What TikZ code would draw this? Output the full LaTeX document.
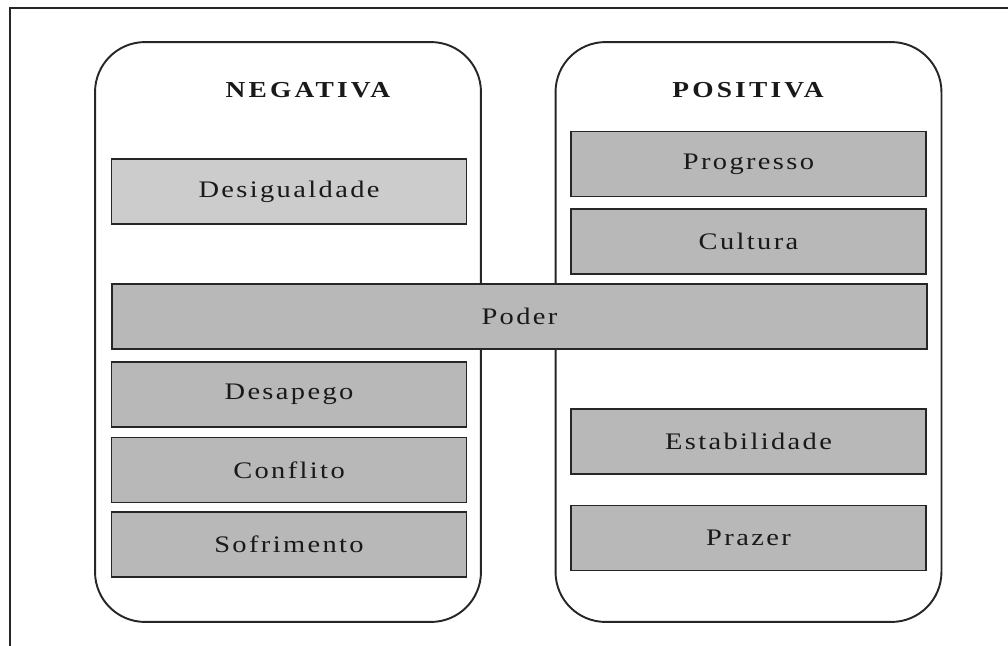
\documentclass[tikz,border=0pt]{standalone}
\usepackage{fontspec}
\setmainfont{Liberation Serif}
\newfontfamily\boxfont[FakeStretch=1.2,LetterSpace=10]{Liberation Serif}
\newfontfamily\headfont[FakeStretch=1.2,LetterSpace=14]{Liberation Serif}
\usetikzlibrary{positioning}

\begin{document}
\begin{tikzpicture}[
    x=0.02cm, y=-0.02cm,
    panel/.style={rectangle, draw=black!85, line width=1.1pt, rounded corners=1cm, minimum width=7.72cm, minimum height=11.6cm},
    item/.style={rectangle, draw=black!85, line width=0.9pt, fill=black!28, text=black!90, minimum width=7.1cm, minimum height=1.3cm, font=\boxfont\fontsize{13.5}{15}\selectfont},
    heading/.style={text=black!90, font=\headfont\bfseries\fontsize{13}{15}\selectfont}
]

    % Frame
    \clip (0,0) rectangle (1008,646);
    \draw[line width=1.1pt, black!85] (1008,8) -- (10,8) -- (10,646);

    % Panels
    \node (neg) [panel] at (288,332) {};
    \node (pos) [panel] at (748.5,332) {};
    \node (negtitle) [heading] at (308,90) {NEGATIVA};
    \node (postitle) [heading] at (748,90) {POSITIVA};

    % Negativa (Left)
    \node (desig) [item, fill=black!20] at (289,191.5) {Desigualdade};
    \node (desap) [item] at (289,394.5) {Desapego};
    \node (confl) [item, below=0.18cm of desap] {Conflito};
    \node (sofr) [item, below=0.16cm of confl] {Sofrimento};

    % Positiva (Right)
    \node (progr) [item] at (748.5,164) {Progresso};
    \node (cult) [item, below=0.22cm of progr] {Cultura};
    \node (estab) [item] at (748.5,441.5) {Estabilidade};
    \node (praz) [item, below=0.6cm of estab] {Prazer};

    % Poder (across both)
    \node (poder) [item, minimum width=16.3cm] at (519.5,316.5) {Poder};

\end{tikzpicture}
\end{document}
